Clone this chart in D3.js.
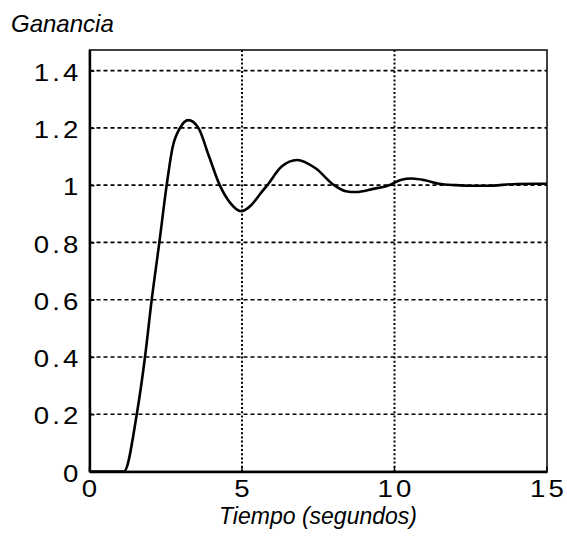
<!DOCTYPE html>
<html>
<head>
<meta charset="utf-8">
<script src="https://cdn.jsdelivr.net/npm/d3@7"></script>
<style>
  body { margin: 0; background: #fff; }
  svg { display: block; }
  .tick-lbl { font-family: "Liberation Sans", Arial, sans-serif; font-size: 23px; fill: #000; }
  .axis-name { font-family: "Liberation Sans", Arial, sans-serif; font-size: 23px; font-style: italic; fill: #000; }
</style>
</head>
<body>
<div id="chart"></div>
<script>
// step response
let tiempo = [0, 1.13, 1.55, 1.82, 2.04, 2.29, 2.53, 2.72, 2.97, 3.24, 3.57, 3.92, 4.27, 4.6, 4.97, 5.3, 5.6, 5.83, 6.3, 6.81, 7.4, 8.02, 8.4, 8.73, 9.3, 9.82, 10.2, 10.57, 11.0, 11.45, 12, 12.5, 13, 14, 15];
let ganancia = [0, 0, 0.2, 0.4, 0.6, 0.8, 1.0, 1.13, 1.2, 1.227, 1.2, 1.1, 1.0, 0.94, 0.909, 0.93, 0.97, 1.0, 1.065, 1.088, 1.06, 1.0, 0.979, 0.976, 0.987, 1.0, 1.018, 1.023, 1.017, 1.005, 1.0, 0.998, 0.998, 1.004, 1.005];
let ticks_x = [0, 5, 10, 15];
let ticks_y = [0, 0.2, 0.4, 0.6, 0.8, 1, 1.2, 1.4];
let grid_x = [5, 10];
let grid_y = [0.2, 0.4, 0.6, 0.8, 1, 1.2, 1.4];

let layout = {
  width: 567, height: 538,
  plot: {left: 89.5, right: 547, top: 50, bottom: 471.5},
  stretch: 1.2
};

let svg = d3.select('#chart').append('svg')
  .attr('width', layout.width).attr('height', layout.height);

let x = d3.scaleLinear().domain([0, 15]).range([layout.plot.left, layout.plot.right]);
let y = d3.scaleLinear().domain([0, 1.472]).range([layout.plot.bottom, layout.plot.top]);

//grid
svg.append('g').selectAll('line').data(grid_y).enter().append('line')
  .attr('x1', layout.plot.left).attr('x2', layout.plot.right)
  .attr('y1', d => y(d)).attr('y2', d => y(d))
  .style('stroke', '#000').style('stroke-width', 1.6).style('stroke-dasharray', '4,3');
svg.append('g').selectAll('line').data(grid_x).enter().append('line')
  .attr('x1', d => x(d)).attr('x2', d => x(d))
  .attr('y1', layout.plot.top).attr('y2', layout.plot.bottom)
  .style('stroke', '#000').style('stroke-width', 2).style('stroke-dasharray', '2,2.2');

//frame
svg.append('rect')
  .attr('x', layout.plot.left).attr('y', layout.plot.top)
  .attr('width', layout.plot.right - layout.plot.left).attr('height', layout.plot.bottom - layout.plot.top)
  .style('fill', 'none').style('stroke', '#000').style('stroke-width', 1.5);

//axis Y
let axis_y = svg.append('g').attr('transform', 'translate(' + layout.plot.left + ',0)')
  .call(d3.axisLeft(y).tickValues(ticks_y).tickFormat(d3.format('')).tickSizeInner(-5).tickSizeOuter(0).tickPadding(0));
axis_y.select('.domain').style('stroke', '#000').style('stroke-width', 2.4);
axis_y.selectAll('.tick line').style('stroke', '#000').style('stroke-width', 1.5);
axis_y.selectAll('.tick text')
  .attr('class', 'tick-lbl')
  .attr('text-anchor', 'end')
  .attr('x', -8 / layout.stretch).attr('dy', '0.42em')
  .style('letter-spacing', '2.6px')
  .attr('transform', 'scale(' + layout.stretch + ',1)');

//axis X
let axis_x = svg.append('g').attr('transform', 'translate(0,' + layout.plot.bottom + ')')
  .call(d3.axisBottom(x).tickValues(ticks_x).tickSizeInner(-5).tickSizeOuter(0).tickPadding(0));
axis_x.select('.domain').style('stroke', '#000').style('stroke-width', 2.4);
axis_x.selectAll('.tick line').style('stroke', '#000').style('stroke-width', 1.5);
axis_x.selectAll('.tick').attr('transform', null);
axis_x.selectAll('.tick line').attr('x1', d => x(d)).attr('x2', d => x(d));
axis_x.selectAll('.tick text')
  .attr('class', 'tick-lbl')
  .attr('y', 25.5).attr('dy', 0)
  .attr('text-anchor', 'middle')
  .style('letter-spacing', '2.6px')
  .attr('transform', 'scale(' + layout.stretch + ',1)')
  .attr('x', d => (x(d) + 1.5) / layout.stretch);

//curve
let pts = tiempo.map((t, i) => [t, ganancia[i]]);
svg.append('path').datum(pts)
  .attr('d', d3.line().x(d => x(d[0])).y(d => y(d[1])).curve(d3.curveMonotoneX))
  .style('fill', 'none').style('stroke', '#000').style('stroke-width', 2.6);

//names
svg.append('text').attr('class', 'axis-name').attr('x', 11).attr('y', 32)
  .style('font-size', '24px').text('Ganancia');
svg.append('text').attr('class', 'axis-name').attr('x', 318).attr('y', 524)
  .attr('text-anchor', 'middle').text('Tiempo (segundos)');
</script>
</body>
</html>
